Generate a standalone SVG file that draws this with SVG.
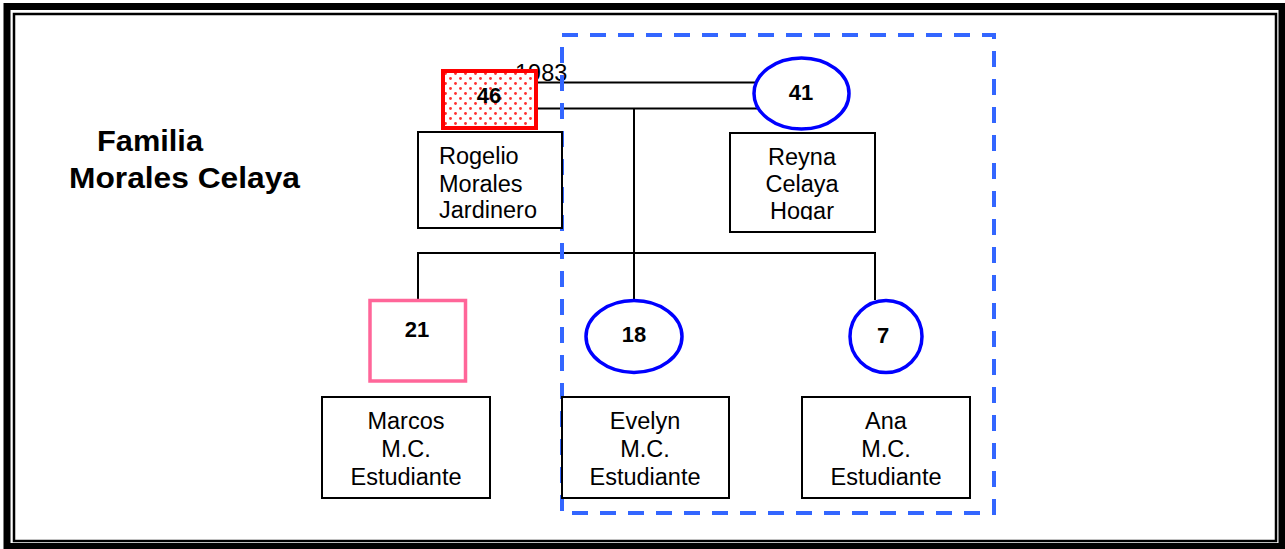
<svg xmlns="http://www.w3.org/2000/svg" width="1285" height="549" viewBox="0 0 1285 549">
<style>
.t{font-family:"Liberation Sans",Arial,sans-serif;font-size:23.5px;fill:#000}
.c{text-anchor:middle}
.n{font-family:"Liberation Sans",Arial,sans-serif;font-size:22px;font-weight:bold;fill:#000;text-anchor:middle}
.box{fill:#fff;stroke:#000;stroke-width:2}
.fem{fill:#fff;stroke:#0000ff;stroke-width:3.5}
.ln{stroke:#000;stroke-width:2;fill:none}
.title{font-family:"Liberation Sans",Arial,sans-serif;font-size:29px;font-weight:bold;fill:#000}
</style>
<defs>
<pattern id="dots" x="443" y="71" width="10" height="10" patternUnits="userSpaceOnUse">
<rect width="10" height="10" fill="#fff"/>
<circle cx="2.5" cy="2.5" r="1.4" fill="#ff3030"/>
<circle cx="7.5" cy="7.5" r="1.4" fill="#ff3030"/>
</pattern>
<clipPath id="clipR"><rect x="418" y="132" width="145" height="86"/></clipPath>
<clipPath id="clipY"><rect x="730" y="133" width="146" height="87"/></clipPath>
</defs>
<rect width="1285" height="549" fill="#fff"/>
<g id="border">
<rect x="7" y="6.5" width="1275" height="540" fill="none" stroke="#000" stroke-width="7"/>
<rect x="14" y="14" width="1262" height="527" fill="none" stroke="#000" stroke-width="2.5"/>
</g>
<g id="title">
<text class="title" x="97" y="151" textLength="106" lengthAdjust="spacingAndGlyphs">Familia</text>
<text class="title" x="69" y="188" textLength="231" lengthAdjust="spacingAndGlyphs">Morales Celaya</text>
</g>
<g id="connectors">
<text class="t" x="515" y="81" font-size="22">1983</text>
<line class="ln" x1="538" y1="82.5" x2="760" y2="82.5"/>
<line class="ln" x1="538" y1="108.5" x2="760" y2="108.5"/>
<line class="ln" x1="634" y1="108.5" x2="634" y2="300"/>
<polyline class="ln" points="418,300 418,253 875,253 875,300"/>
</g>
<g id="household">
<rect x="562" y="35" width="432" height="478" fill="none" stroke="#3366ff" stroke-width="4" stroke-dasharray="16 12"/>
</g>
<g id="node-46">
<rect x="443" y="71" width="93" height="57" fill="url(#dots)" stroke="#ff0000" stroke-width="4"/>
<text class="n" x="489" y="103">46</text>
</g>
<g id="node-rogelio">
<rect class="box" x="418" y="132" width="144" height="96"/>
<g clip-path="url(#clipR)">
<text class="t" x="439" y="164">Rogelio</text>
<text class="t" x="439" y="192">Morales</text>
<text class="t" x="439" y="218">Jardinero</text>
</g>
</g>
<g id="node-41">
<ellipse class="fem" cx="801.5" cy="93.5" rx="47.5" ry="35.5"/>
<text class="n" x="801" y="100">41</text>
</g>
<g id="node-reyna">
<rect class="box" x="730" y="133" width="145" height="99"/>
<g clip-path="url(#clipY)">
<text class="t c" x="802" y="165">Reyna</text>
<text class="t c" x="802" y="192">Celaya</text>
<text class="t c" x="802" y="219">Hogar</text>
</g>
</g>
<g id="node-21">
<rect x="370" y="300.5" width="95.5" height="80.5" fill="#fff" stroke="#ff6699" stroke-width="3.5"/>
<text class="n" x="417" y="337">21</text>
</g>
<g id="node-18">
<ellipse class="fem" cx="634" cy="336.5" rx="48" ry="36"/>
<text class="n" x="634" y="342">18</text>
</g>
<g id="node-7">
<circle class="fem" cx="886" cy="336.5" r="36"/>
<text class="n" x="883" y="343">7</text>
</g>
<g id="node-marcos">
<rect class="box" x="322" y="397" width="168" height="101"/>
<text class="t c" x="406" y="429">Marcos</text>
<text class="t c" x="406" y="457">M.C.</text>
<text class="t c" x="406" y="485">Estudiante</text>
</g>
<g id="node-evelyn">
<rect class="box" x="562" y="397" width="167" height="101"/>
<text class="t c" x="645" y="429">Evelyn</text>
<text class="t c" x="645" y="457">M.C.</text>
<text class="t c" x="645" y="485">Estudiante</text>
</g>
<g id="node-ana">
<rect class="box" x="802" y="397" width="168" height="101"/>
<text class="t c" x="886" y="429">Ana</text>
<text class="t c" x="886" y="457">M.C.</text>
<text class="t c" x="886" y="485">Estudiante</text>
</g>
</svg>
